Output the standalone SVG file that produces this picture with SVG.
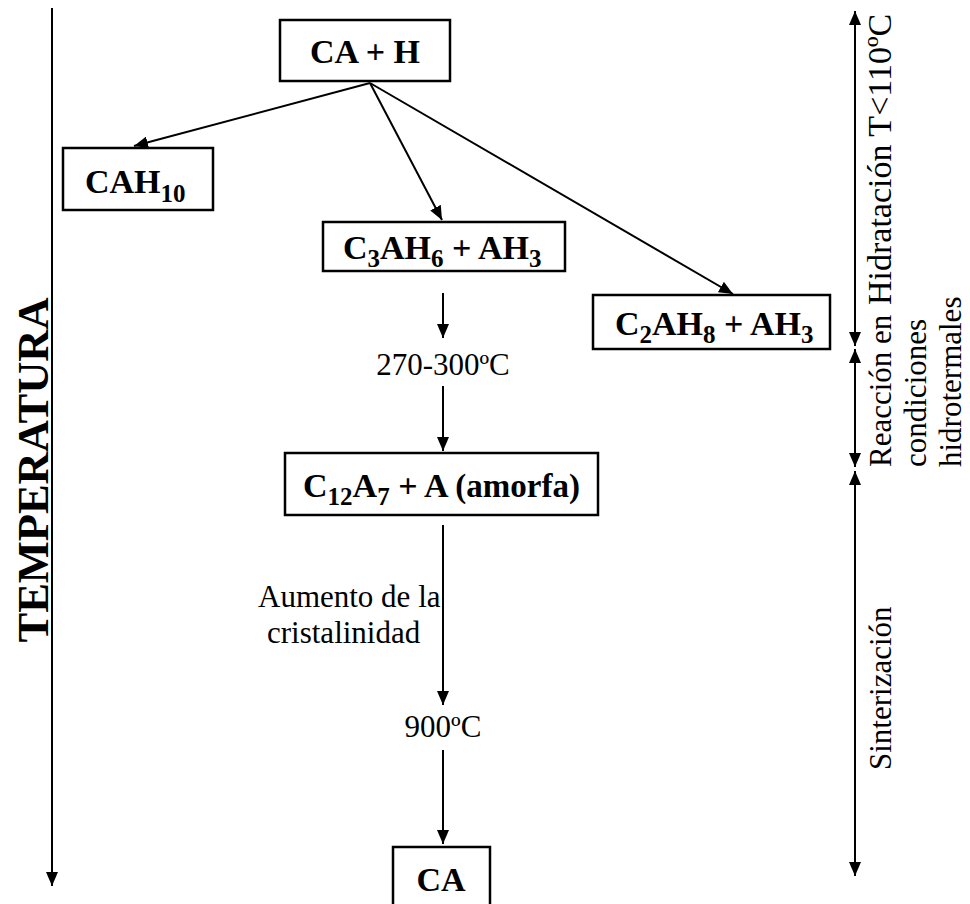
<svg xmlns="http://www.w3.org/2000/svg" width="970" height="904" viewBox="0 0 970 904">
  <style>
    .box { fill: #fff; stroke: #000; stroke-width: 2.5; }
    .lbl { font-family: "Liberation Serif", "Times New Roman", serif; font-weight: bold; font-size: 34px; fill: #000; }
    .sub { font-size: 25px; }
    .txt { font-family: "Liberation Serif", "Times New Roman", serif; font-size: 31px; fill: #000; }
    .ln { stroke: #000; stroke-width: 2; fill: none; }
  </style>
  <defs>
    <marker id="ah" viewBox="0 0 14 12" refX="14" refY="6" markerWidth="14" markerHeight="12" markerUnits="userSpaceOnUse" orient="auto">
      <path d="M0,0 L14,6 L0,12 Z" fill="#000"/>
    </marker>
    <marker id="ahs" viewBox="0 0 14 12" refX="14" refY="6" markerWidth="14" markerHeight="12" markerUnits="userSpaceOnUse" orient="auto-start-reverse">
      <path d="M0,0 L14,6 L0,12 Z" fill="#000"/>
    </marker>
  </defs>

  <rect width="970" height="904" fill="#fff"/>

  <!-- temperature axis -->
  <g id="temperature-axis">
    <line class="ln" x1="52" y1="8" x2="52" y2="886" marker-end="url(#ah)"/>
    <text class="lbl" text-anchor="middle" transform="translate(48,470) rotate(-90)" style="font-size:44px" textLength="345" lengthAdjust="spacingAndGlyphs">TEMPERATURA</text>
  </g>

  <!-- stage ranges on the right -->
  <g id="stages">
    <line class="ln" x1="855" y1="11" x2="855" y2="346" marker-start="url(#ahs)" marker-end="url(#ah)"/>
    <line class="ln" x1="855" y1="349" x2="855" y2="467" marker-start="url(#ahs)" marker-end="url(#ah)"/>
    <line class="ln" x1="855" y1="471" x2="855" y2="876" marker-start="url(#ahs)" marker-end="url(#ah)"/>
    <text class="txt" transform="translate(891,305) rotate(-90)" style="font-size:34px">Hidratación  T&lt;110ºC</text>
    <text class="txt" transform="translate(891,467) rotate(-90)">Reacción en</text>
    <text class="txt" transform="translate(926,467) rotate(-90)">condiciones</text>
    <text class="txt" transform="translate(961,467) rotate(-90)">hidrotermales</text>
    <text class="txt" transform="translate(891,770) rotate(-90)">Sinterización</text>
  </g>

  <!-- connectors -->
  <g id="connectors">
    <line class="ln" x1="370" y1="83" x2="134" y2="146" marker-end="url(#ah)"/>
    <line class="ln" x1="370" y1="83" x2="442" y2="220" marker-end="url(#ah)"/>
    <line class="ln" x1="370" y1="83" x2="733" y2="294" marker-end="url(#ah)"/>
    <line class="ln" x1="443" y1="293" x2="443" y2="338" marker-end="url(#ah)"/>
    <line class="ln" x1="443" y1="386" x2="443" y2="451" marker-end="url(#ah)"/>
    <line class="ln" x1="443" y1="525" x2="443" y2="705" marker-end="url(#ah)"/>
    <line class="ln" x1="443" y1="750" x2="443" y2="844" marker-end="url(#ah)"/>
    <text class="txt" x="443" y="375" text-anchor="middle">270-300ºC</text>
    <text class="txt" x="258" y="607">Aumento de la</text>
    <text class="txt" x="267" y="643">cristalinidad</text>
    <text class="txt" x="443" y="737" text-anchor="middle">900ºC</text>
  </g>

  <g id="ca-h">
    <rect class="box" x="280" y="20" width="170" height="61"/>
    <text class="lbl" x="365" y="63" text-anchor="middle">CA + H</text>
  </g>

  <g id="cah10">
    <rect class="box" x="63" y="148" width="150" height="62"/>
    <text class="lbl" x="85" y="193">CAH<tspan class="sub" dy="9">10</tspan></text>
  </g>

  <g id="c3ah6">
    <rect class="box" x="323" y="222" width="242" height="49"/>
    <text class="lbl" x="343" y="259">C<tspan class="sub" dy="8">3</tspan><tspan dy="-8">AH</tspan><tspan class="sub" dy="8">6</tspan><tspan dy="-8"> + AH</tspan><tspan class="sub" dy="8">3</tspan></text>
  </g>

  <g id="c2ah8">
    <rect class="box" x="593" y="295" width="237" height="54"/>
    <text class="lbl" x="615" y="335">C<tspan class="sub" dy="8">2</tspan><tspan dy="-8">AH</tspan><tspan class="sub" dy="8">8</tspan><tspan dy="-8"> + AH</tspan><tspan class="sub" dy="8">3</tspan></text>
  </g>

  <g id="c12a7">
    <rect class="box" x="285" y="453" width="313" height="62"/>
    <text class="lbl" x="303" y="497">C<tspan class="sub" dy="8">12</tspan><tspan dy="-8">A</tspan><tspan class="sub" dy="8">7</tspan><tspan dy="-8">  + A </tspan><tspan style="font-size:33px">(amorfa)</tspan></text>
  </g>

  <g id="ca">
    <rect class="box" x="393" y="847" width="97" height="70"/>
    <text class="lbl" x="441" y="891" text-anchor="middle">CA</text>
  </g>
</svg>
